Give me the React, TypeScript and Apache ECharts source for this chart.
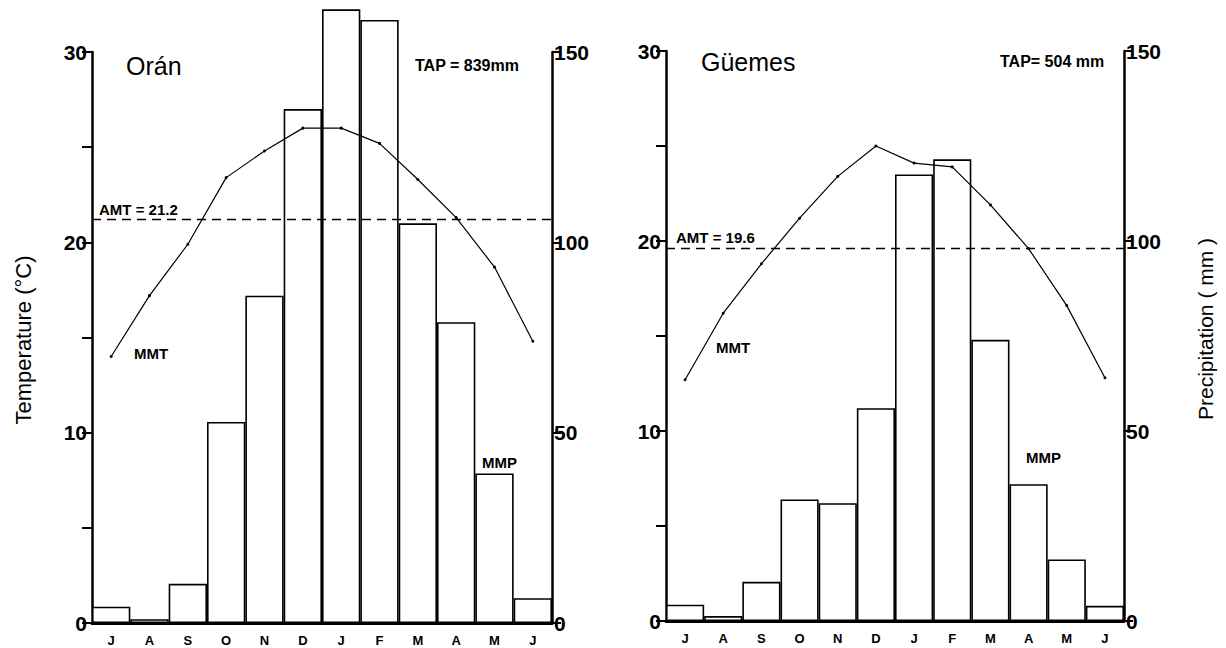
import React, { useEffect, useRef } from "react";
import * as echarts from "echarts";

const months = ["J", "A", "S", "O", "N", "D", "J", "F", "M", "A", "M", "J"];
const oranPrecip = [4.3, 1.0, 10.3, 52.8, 86, 135, 161.2, 158.4, 105, 79, 39.3, 6.5];
const oranTemp = [14.0, 17.2, 19.9, 23.4, 24.8, 26.0, 26.0, 25.2, 23.3, 21.3, 18.7, 14.8];
const guemesPrecip = [4.3, 1.3, 10.3, 32, 31, 56, 117.5, 121.5, 74, 36, 16.2, 4];
const guemesTemp = [12.7, 16.2, 18.8, 21.2, 23.4, 25.0, 24.1, 23.9, 21.9, 19.6, 16.6, 12.8];
const stations = ["Orán", "Güemes"];
const amtValues = [21.2, 19.6];
const tapLabels = ["TAP = 839mm", "TAP= 504 mm"];
const amtLabels = ["AMT = 21.2", "AMT = 19.6"];
const tempTicks = [0, 10, 20, 30];
const precipTicks = [0, 50, 100, 150];

const FONT = '"Liberation Sans", Arial, Helvetica, sans-serif';

export default function App() {
  const ref = useRef<HTMLDivElement>(null);

  useEffect(() => {
    if (!ref.current) return;
    const chart = echarts.init(ref.current, null, { renderer: "svg" });

    const grids = [
      { left: 92, top: 52, width: 460, height: 571 },
      { left: 666, top: 51, width: 458, height: 570 },
    ];

    const axisLine = (w: number) => ({ show: true, onZero: false, lineStyle: { color: "#000", width: w } });

    const xAxes = grids.map((_, i) => ({
      type: "category",
      gridIndex: i,
      data: months,
      axisLine: axisLine(3),
      axisTick: { show: false },
      axisLabel: { color: "#000", fontFamily: FONT, fontWeight: "bold", fontSize: 13, margin: 11 },
      splitLine: { show: false },
    }));

    const yAxes: any[] = [];
    grids.forEach((_, i) => {
      yAxes.push({
        type: "value",
        gridIndex: i,
        position: "left",
        min: 0,
        max: 30,
        interval: 5,
        axisLine: axisLine(2.5),
        axisTick: { show: true, length: 10, lineStyle: { color: "#000", width: 2 } },
        axisLabel: {
          color: "#000",
          fontFamily: FONT,
          fontWeight: "bold",
          fontSize: 21,
          margin: 5,
          formatter: (v: number) => (tempTicks.includes(v) ? String(v) : ""),
        },
        splitLine: { show: false },
      });
      yAxes.push({
        type: "value",
        gridIndex: i,
        position: "right",
        min: 0,
        max: 150,
        interval: 50,
        axisLine: axisLine(2.5),
        axisTick: { show: true, length: 9, lineStyle: { color: "#000", width: 2 } },
        axisLabel: {
          color: "#000",
          fontFamily: FONT,
          fontWeight: "bold",
          fontSize: 21,
          margin: 2,
          formatter: (v: number) => (precipTicks.includes(v) ? String(v) : ""),
        },
        splitLine: { show: false },
      });
    });

    const precip = [oranPrecip, guemesPrecip];
    const temp = [oranTemp, guemesTemp];

    const series: any[] = [];
    grids.forEach((_, i) => {
      series.push({
        type: "bar",
        xAxisIndex: i,
        yAxisIndex: i * 2 + 1,
        data: precip[i],
        barCategoryGap: "0%",
        clip: false,
        z: 2,
        itemStyle: { color: "#fff", borderColor: "#000", borderWidth: 1.6 },
      });
      series.push({
        type: "line",
        xAxisIndex: i,
        yAxisIndex: i * 2,
        data: temp[i],
        z: 4,
        symbol: "circle",
        symbolSize: 3,
        itemStyle: { color: "#000" },
        lineStyle: { color: "#000", width: 1.2 },
        markLine: {
          silent: true,
          symbol: ["none", "none"],
          label: { show: false },
          lineStyle: { color: "#000", width: 1.4, type: [9, 6] },
          data: [{ yAxis: amtValues[i] }],
        },
      });
    });

    const txt = (text: string, x: number, y: number, size: number, weight: string, extra: any = {}) => ({
      type: "text",
      x,
      y,
      z: 10,
      ...extra,
      style: {
        text,
        fill: "#000",
        font: `${weight} ${size}px ${FONT}`,
        textAlign: extra.align || "left",
        textVerticalAlign: "middle",
      },
    });

    const graphics = [
      txt(stations[0], 126, 66, 25, "normal"),
      txt(stations[1], 701, 62, 25, "normal"),
      txt(tapLabels[0], 415, 65, 16, "bold"),
      txt(tapLabels[1], 1000, 61, 16, "bold"),
      txt(amtLabels[0], 99, 209, 15, "bold"),
      txt(amtLabels[1], 676, 237, 15, "bold"),
      txt("MMT", 134, 353, 15, "bold"),
      txt("MMT", 716, 347, 15, "bold"),
      txt("MMP", 482, 462, 15, "bold"),
      txt("MMP", 1026, 457, 15, "bold"),
      txt("Temperature (°C)", 23, 340, 22, "normal", { rotation: Math.PI / 2, align: "center" }),
      txt("Precipitation ( mm )", 1205, 329, 21, "normal", { rotation: Math.PI / 2, align: "center" }),
    ];

    chart.setOption({
      animation: false,
      backgroundColor: "#fff",
      grid: grids,
      xAxis: xAxes,
      yAxis: yAxes,
      series,
      graphic: graphics,
    });

    return () => chart.dispose();
  }, []);

  return (
    <div
      ref={ref}
      style={{ position: "fixed", left: 0, top: 0, width: 1226, height: 648, background: "#fff" }}
    />
  );
}
